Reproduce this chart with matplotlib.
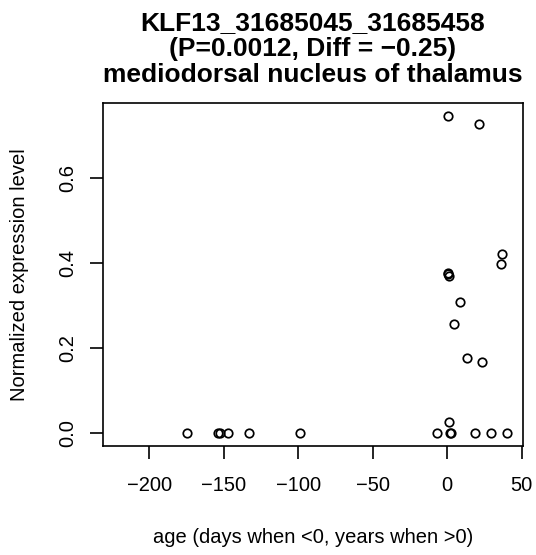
import matplotlib
matplotlib.use("Agg")
import matplotlib.pyplot as plt

plt.rcParams['font.family'] = ['Liberation Sans', 'DejaVu Sans']

title_lines = ["KLF13_31685045_31685458", "(P=0.0012, Diff = \u22120.25)", "mediodorsal nucleus of thalamus"]
x_label = "age (days when <0, years when >0)"
y_label = "Normalized expression level"

age = [0.5, 21.3, 37.0, 36.3, 0.5, 0.9, 0.7, 8.3, 4.5, 13.2, 23.5, 1.3,
       -174.8, -153.5, -152.6, -146.8, -132.8, -98.5, -6.9, 1.6, 2.6, 18.8, 29.5, 39.9]
expr = [0.747, 0.728, 0.421, 0.399, 0.376, 0.371, 0.374, 0.309, 0.256, 0.176, 0.167, 0.027,
        0, 0, 0, 0, 0, 0, 0, 0, 0, 0, 0, 0]
x_ticks = [-200, -150, -100, -50, 0, 50]
y_ticks = [0.0, 0.2, 0.4, 0.6]
y_tick_labels = ["0.0", "0.2", "0.4", "0.6"]
x_tick_labels = ["\u2212200", "\u2212150", "\u2212100", "\u221250", "0", "50"]

W, H = 536, 555
fig = plt.figure(figsize=(W / 100, H / 100), dpi=100)
L, R, T, B = 103.3, 522.7, 103.3, 446.0
ax = fig.add_axes([L / W, 1 - B / H, (R - L) / W, (B - T) / H])

ax.plot(age, expr, linestyle='none', marker='o', markersize=6.1,
        markerfacecolor='none', markeredgecolor='black', markeredgewidth=1.25)

ax.set_xlim(-230.7, 50.6)
ax.set_ylim(-0.030, 0.776)
ax.set_xticks(x_ticks)
ax.set_xticklabels(x_tick_labels)
ax.set_yticks(y_ticks)
ax.set_yticklabels(y_tick_labels, rotation=90, va='center')

for s in ax.spines.values():
    s.set_linewidth(1.2)
ax.tick_params(axis='both', length=9.5, width=1.2, labelsize=14.5, direction='out')
ax.tick_params(axis='x', pad=12)
ax.tick_params(axis='y', pad=9)

ax.set_xlabel(x_label, fontsize=14.5, labelpad=24)
ax.set_ylabel(y_label, fontsize=14.5, labelpad=21)
ax.set_title("\n".join(title_lines), fontsize=19, fontweight='bold', linespacing=1.11, pad=15)

fig.savefig("out.png", dpi=100)
